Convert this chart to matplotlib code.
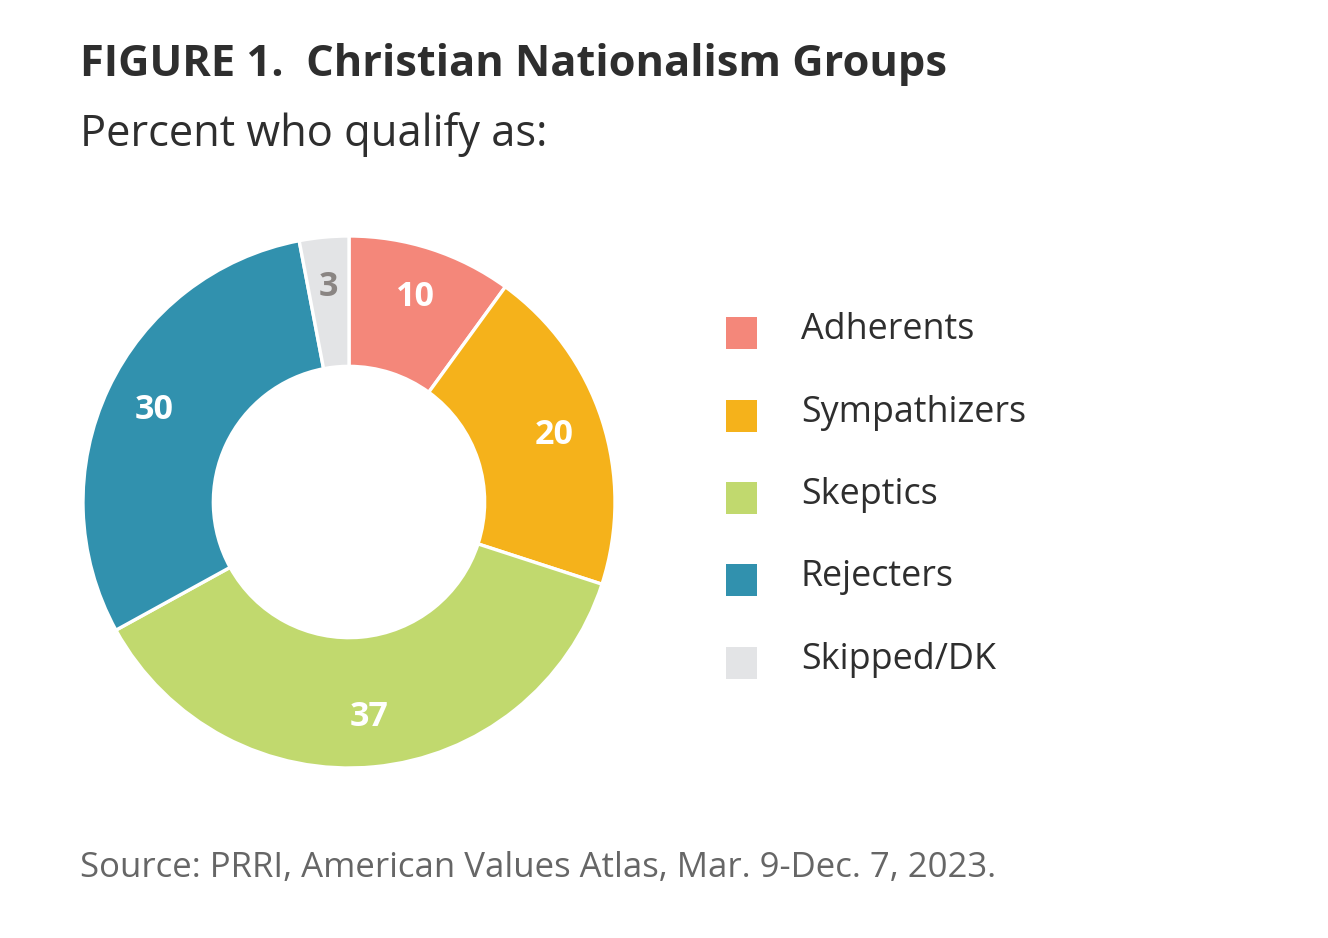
import matplotlib.pyplot as plt
from matplotlib.patches import Rectangle

plt.rcParams['font.family'] = ['Open Sans', 'DejaVu Sans']

categories = ['Adherents', 'Sympathizers', 'Skeptics', 'Rejecters', 'Skipped/DK']
values = [10, 20, 37, 30, 3]
colors = ['#F4877A', '#F5B21B', '#C1D96E', '#3191AE', '#E3E4E6']
label_colors = ['white', 'white', 'white', 'white', '#8a8583']

W, H = 1328, 938
fig = plt.figure(figsize=(W / 100, H / 100), dpi=100)

# pie axes placed in pixels: centre (349, 502), radius 266
cx, cy, r = 349, 502, 266
ax = fig.add_axes([(cx - r) / W, (H - cy - r) / H, 2 * r / W, 2 * r / H])
wedges, texts = ax.pie(values, colors=colors, startangle=90, counterclock=False,
                       radius=1.0, labels=[str(v) for v in values], labeldistance=0.81,
                       wedgeprops=dict(width=0.49, edgecolor='white', linewidth=2.4))
for t, c in zip(texts, label_colors):
    t.set_color(c)
    t.set_fontsize(24.5)
    t.set_fontweight('bold')
    t.set_ha('center')
    t.set_va('center')
ax.set_xlim(-1, 1)
ax.set_ylim(-1, 1)
ax.set_aspect('equal')
ax.axis('off')

# titles
fig.text(80 / W, 1 - 64 / H, 'FIGURE 1.  Christian Nationalism Groups', fontsize=31.2,
         fontweight='bold', color='#2e2e2e', va='center', ha='left')
fig.text(80 / W, 1 - 135 / H, 'Percent who qualify as:', fontsize=31.3,
         color='#2e2e2e', va='center', ha='left')

# legend
leg_y = [333, 416, 498, 580, 663]
for name, col, y in zip(categories, colors, leg_y):
    fig.patches.append(Rectangle((726 / W, 1 - (y + 16) / H), 31 / W, 32 / H,
                                 transform=fig.transFigure, facecolor=col, edgecolor='none'))
    fig.text(801 / W, 1 - (y - 3) / H, name, fontsize=25.8, color='#2e2e2e', va='center', ha='left')

fig.text(80 / W, 1 - 868 / H, 'Source: PRRI, American Values Atlas, Mar. 9-Dec. 7, 2023.',
         fontsize=25, color='#666666', va='center', ha='left')

fig.savefig('out.png', dpi=100, facecolor='white')
